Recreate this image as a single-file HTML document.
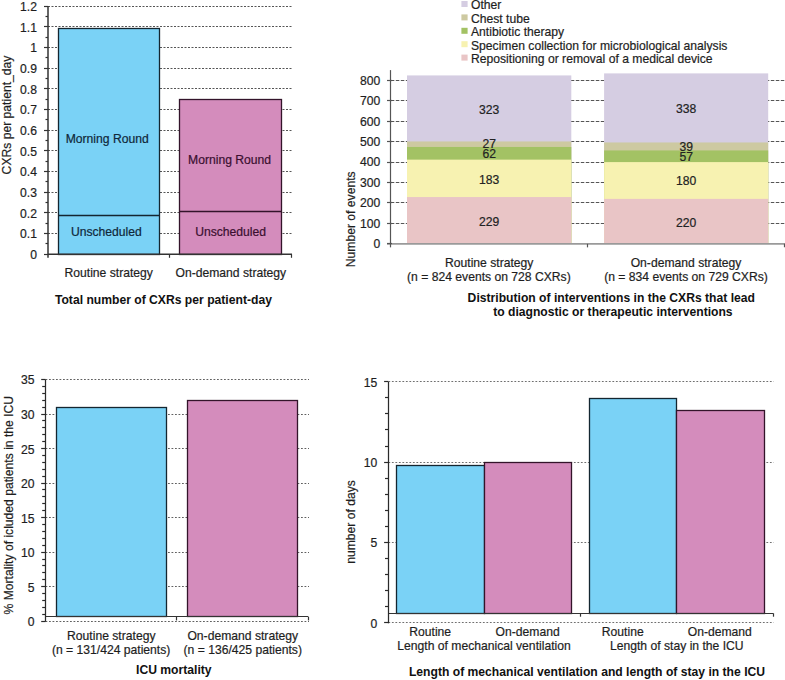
<!DOCTYPE html>
<html><head><meta charset="utf-8"><title>CXR strategies</title>
<style>
html,body{margin:0;padding:0;background:#fff;}
body{width:785px;height:680px;overflow:hidden;}
svg{display:block;font-family:"Liberation Sans", sans-serif;}
</style></head>
<body>
<svg width="785" height="680" viewBox="0 0 785 680">
<rect width="785" height="680" fill="#fff"/>
<line x1="48.00" y1="233.50" x2="292.00" y2="233.50" stroke="#555" stroke-width="1" stroke-dasharray="2 1.5"/>
<line x1="48.00" y1="212.50" x2="292.00" y2="212.50" stroke="#555" stroke-width="1" stroke-dasharray="2 1.5"/>
<line x1="48.00" y1="192.50" x2="292.00" y2="192.50" stroke="#555" stroke-width="1" stroke-dasharray="2 1.5"/>
<line x1="48.00" y1="171.50" x2="292.00" y2="171.50" stroke="#555" stroke-width="1" stroke-dasharray="2 1.5"/>
<line x1="48.00" y1="150.50" x2="292.00" y2="150.50" stroke="#555" stroke-width="1" stroke-dasharray="2 1.5"/>
<line x1="48.00" y1="130.50" x2="292.00" y2="130.50" stroke="#555" stroke-width="1" stroke-dasharray="2 1.5"/>
<line x1="48.00" y1="109.50" x2="292.00" y2="109.50" stroke="#555" stroke-width="1" stroke-dasharray="2 1.5"/>
<line x1="48.00" y1="88.50" x2="292.00" y2="88.50" stroke="#555" stroke-width="1" stroke-dasharray="2 1.5"/>
<line x1="48.00" y1="68.50" x2="292.00" y2="68.50" stroke="#555" stroke-width="1" stroke-dasharray="2 1.5"/>
<line x1="48.00" y1="47.50" x2="292.00" y2="47.50" stroke="#555" stroke-width="1" stroke-dasharray="2 1.5"/>
<line x1="48.00" y1="26.50" x2="292.00" y2="26.50" stroke="#555" stroke-width="1" stroke-dasharray="2 1.5"/>
<line x1="48.00" y1="6.50" x2="292.00" y2="6.50" stroke="#555" stroke-width="1" stroke-dasharray="2 1.5"/>
<rect x="58.50" y="28.50" width="101.00" height="226.00" fill="#7ad2f6" stroke="#142630" stroke-width="1.3"/>
<line x1="58.20" y1="215.50" x2="159.50" y2="215.50" stroke="#142630" stroke-width="1.3"/>
<rect x="179.50" y="99.50" width="102.00" height="155.00" fill="#d48cbc" stroke="#33142a" stroke-width="1.3"/>
<line x1="179.80" y1="211.50" x2="281.40" y2="211.50" stroke="#33142a" stroke-width="1.3"/>
<line x1="48.00" y1="6.14" x2="48.00" y2="257.80" stroke="#333" stroke-width="1.5"/>
<line x1="48.00" y1="254.30" x2="292.00" y2="254.30" stroke="#333" stroke-width="1.5"/>
<line x1="44.00" y1="254.50" x2="48.00" y2="254.50" stroke="#333" stroke-width="1.2"/>
<line x1="44.00" y1="233.50" x2="48.00" y2="233.50" stroke="#333" stroke-width="1.2"/>
<line x1="44.00" y1="212.50" x2="48.00" y2="212.50" stroke="#333" stroke-width="1.2"/>
<line x1="44.00" y1="192.50" x2="48.00" y2="192.50" stroke="#333" stroke-width="1.2"/>
<line x1="44.00" y1="171.50" x2="48.00" y2="171.50" stroke="#333" stroke-width="1.2"/>
<line x1="44.00" y1="150.50" x2="48.00" y2="150.50" stroke="#333" stroke-width="1.2"/>
<line x1="44.00" y1="130.50" x2="48.00" y2="130.50" stroke="#333" stroke-width="1.2"/>
<line x1="44.00" y1="109.50" x2="48.00" y2="109.50" stroke="#333" stroke-width="1.2"/>
<line x1="44.00" y1="88.50" x2="48.00" y2="88.50" stroke="#333" stroke-width="1.2"/>
<line x1="44.00" y1="68.50" x2="48.00" y2="68.50" stroke="#333" stroke-width="1.2"/>
<line x1="44.00" y1="47.50" x2="48.00" y2="47.50" stroke="#333" stroke-width="1.2"/>
<line x1="44.00" y1="26.50" x2="48.00" y2="26.50" stroke="#333" stroke-width="1.2"/>
<line x1="44.00" y1="6.50" x2="48.00" y2="6.50" stroke="#333" stroke-width="1.2"/>
<line x1="45.50" y1="243.50" x2="48.00" y2="243.50" stroke="#333" stroke-width="1.2"/>
<line x1="45.50" y1="223.50" x2="48.00" y2="223.50" stroke="#333" stroke-width="1.2"/>
<line x1="45.50" y1="202.50" x2="48.00" y2="202.50" stroke="#333" stroke-width="1.2"/>
<line x1="45.50" y1="181.50" x2="48.00" y2="181.50" stroke="#333" stroke-width="1.2"/>
<line x1="45.50" y1="161.50" x2="48.00" y2="161.50" stroke="#333" stroke-width="1.2"/>
<line x1="45.50" y1="140.50" x2="48.00" y2="140.50" stroke="#333" stroke-width="1.2"/>
<line x1="45.50" y1="119.50" x2="48.00" y2="119.50" stroke="#333" stroke-width="1.2"/>
<line x1="45.50" y1="99.50" x2="48.00" y2="99.50" stroke="#333" stroke-width="1.2"/>
<line x1="45.50" y1="78.50" x2="48.00" y2="78.50" stroke="#333" stroke-width="1.2"/>
<line x1="45.50" y1="57.50" x2="48.00" y2="57.50" stroke="#333" stroke-width="1.2"/>
<line x1="45.50" y1="37.50" x2="48.00" y2="37.50" stroke="#333" stroke-width="1.2"/>
<line x1="45.50" y1="16.50" x2="48.00" y2="16.50" stroke="#333" stroke-width="1.2"/>
<line x1="169.50" y1="254.30" x2="169.50" y2="257.80" stroke="#333" stroke-width="1.2"/>
<line x1="291.50" y1="254.30" x2="291.50" y2="257.80" stroke="#333" stroke-width="1.2"/>
<text x="37.00" y="259.05" text-anchor="end" font-size="12.15" fill="#1e1e1e" stroke="#1e1e1e" stroke-width="0.2">0</text>
<text x="37.00" y="238.37" text-anchor="end" font-size="12.15" fill="#1e1e1e" stroke="#1e1e1e" stroke-width="0.2">0.1</text>
<text x="37.00" y="217.69" text-anchor="end" font-size="12.15" fill="#1e1e1e" stroke="#1e1e1e" stroke-width="0.2">0.2</text>
<text x="37.00" y="197.01" text-anchor="end" font-size="12.15" fill="#1e1e1e" stroke="#1e1e1e" stroke-width="0.2">0.3</text>
<text x="37.00" y="176.33" text-anchor="end" font-size="12.15" fill="#1e1e1e" stroke="#1e1e1e" stroke-width="0.2">0.4</text>
<text x="37.00" y="155.65" text-anchor="end" font-size="12.15" fill="#1e1e1e" stroke="#1e1e1e" stroke-width="0.2">0.5</text>
<text x="37.00" y="134.97" text-anchor="end" font-size="12.15" fill="#1e1e1e" stroke="#1e1e1e" stroke-width="0.2">0.6</text>
<text x="37.00" y="114.29" text-anchor="end" font-size="12.15" fill="#1e1e1e" stroke="#1e1e1e" stroke-width="0.2">0.7</text>
<text x="37.00" y="93.61" text-anchor="end" font-size="12.15" fill="#1e1e1e" stroke="#1e1e1e" stroke-width="0.2">0.8</text>
<text x="37.00" y="72.93" text-anchor="end" font-size="12.15" fill="#1e1e1e" stroke="#1e1e1e" stroke-width="0.2">0.9</text>
<text x="37.00" y="52.25" text-anchor="end" font-size="12.15" fill="#1e1e1e" stroke="#1e1e1e" stroke-width="0.2">1</text>
<text x="37.00" y="31.57" text-anchor="end" font-size="12.15" fill="#1e1e1e" stroke="#1e1e1e" stroke-width="0.2">1.1</text>
<text x="37.00" y="10.89" text-anchor="end" font-size="12.15" fill="#1e1e1e" stroke="#1e1e1e" stroke-width="0.2">1.2</text>
<text x="107.20" y="143.00" text-anchor="middle" font-size="12.15" fill="#10283a" stroke="#10283a" stroke-width="0.2">Morning Round</text>
<text x="106.40" y="235.60" text-anchor="middle" font-size="12.15" fill="#10283a" stroke="#10283a" stroke-width="0.2">Unscheduled</text>
<text x="229.60" y="164.00" text-anchor="middle" font-size="12.15" fill="#3a0f30" stroke="#3a0f30" stroke-width="0.2">Morning Round</text>
<text x="230.60" y="235.60" text-anchor="middle" font-size="12.15" fill="#3a0f30" stroke="#3a0f30" stroke-width="0.2">Unscheduled</text>
<text x="108.70" y="276.80" text-anchor="middle" font-size="12.15" fill="#1e1e1e" stroke="#1e1e1e" stroke-width="0.2">Routine strategy</text>
<text x="230.80" y="276.80" text-anchor="middle" font-size="12.15" fill="#1e1e1e" stroke="#1e1e1e" stroke-width="0.2">On-demand strategy</text>
<text x="163.40" y="303.60" text-anchor="middle" font-size="12.15" fill="#111" font-weight="bold">Total number of CXRs per patient-day</text>
<text x="10.60" y="115.00" text-anchor="middle" font-size="12.15" fill="#1e1e1e" stroke="#1e1e1e" stroke-width="0.2" transform="rotate(-90 10.60 115.00)">CXRs per patient_day</text>
<line x1="390.80" y1="223.50" x2="785.00" y2="223.50" stroke="#555" stroke-width="1" stroke-dasharray="3.5 1.5"/>
<line x1="390.80" y1="202.50" x2="785.00" y2="202.50" stroke="#555" stroke-width="1" stroke-dasharray="3.5 1.5"/>
<line x1="390.80" y1="182.50" x2="785.00" y2="182.50" stroke="#555" stroke-width="1" stroke-dasharray="3.5 1.5"/>
<line x1="390.80" y1="162.50" x2="785.00" y2="162.50" stroke="#555" stroke-width="1" stroke-dasharray="3.5 1.5"/>
<line x1="390.80" y1="141.50" x2="785.00" y2="141.50" stroke="#555" stroke-width="1" stroke-dasharray="3.5 1.5"/>
<line x1="390.80" y1="121.50" x2="785.00" y2="121.50" stroke="#555" stroke-width="1" stroke-dasharray="3.5 1.5"/>
<line x1="390.80" y1="100.50" x2="785.00" y2="100.50" stroke="#555" stroke-width="1" stroke-dasharray="3.5 1.5"/>
<line x1="390.80" y1="80.50" x2="785.00" y2="80.50" stroke="#555" stroke-width="1" stroke-dasharray="3.5 1.5"/>
<rect x="407.00" y="75.42" width="164.30" height="168.43" fill="#d5cde2"/>
<rect x="407.00" y="141.45" width="164.30" height="102.40" fill="#cdc9a1"/>
<rect x="407.00" y="146.96" width="164.30" height="96.89" fill="#a3c264"/>
<rect x="407.00" y="159.64" width="164.30" height="84.21" fill="#f7f2b1"/>
<rect x="407.00" y="197.04" width="164.30" height="46.81" fill="#e9c5c6"/>
<text x="489.15" y="225.50" text-anchor="middle" font-size="12.15" fill="#222" stroke="#222" stroke-width="0.2">229</text>
<text x="489.15" y="183.60" text-anchor="middle" font-size="12.15" fill="#222" stroke="#222" stroke-width="0.2">183</text>
<text x="489.15" y="158.40" text-anchor="middle" font-size="12.15" fill="#222" stroke="#222" stroke-width="0.2">62</text>
<text x="489.15" y="148.20" text-anchor="middle" font-size="12.15" fill="#222" stroke="#222" stroke-width="0.2">27</text>
<text x="489.15" y="113.60" text-anchor="middle" font-size="12.15" fill="#222" stroke="#222" stroke-width="0.2">323</text>
<rect x="604.10" y="73.38" width="164.10" height="170.47" fill="#d5cde2"/>
<rect x="604.10" y="142.47" width="164.10" height="101.38" fill="#cdc9a1"/>
<rect x="604.10" y="150.44" width="164.10" height="93.41" fill="#a3c264"/>
<rect x="604.10" y="162.09" width="164.10" height="81.76" fill="#f7f2b1"/>
<rect x="604.10" y="198.88" width="164.10" height="44.97" fill="#e9c5c6"/>
<text x="686.15" y="226.60" text-anchor="middle" font-size="12.15" fill="#222" stroke="#222" stroke-width="0.2">220</text>
<text x="686.15" y="185.40" text-anchor="middle" font-size="12.15" fill="#222" stroke="#222" stroke-width="0.2">180</text>
<text x="686.15" y="161.00" text-anchor="middle" font-size="12.15" fill="#222" stroke="#222" stroke-width="0.2">57</text>
<text x="686.15" y="151.00" text-anchor="middle" font-size="12.15" fill="#222" stroke="#222" stroke-width="0.2">39</text>
<text x="686.15" y="112.80" text-anchor="middle" font-size="12.15" fill="#222" stroke="#222" stroke-width="0.2">338</text>
<line x1="390.50" y1="70.10" x2="390.50" y2="243.85" stroke="#555" stroke-width="1.2"/>
<line x1="387.00" y1="243.85" x2="785.00" y2="243.85" stroke="#9a9a9a" stroke-width="1.6"/>
<line x1="387.00" y1="243.50" x2="392.00" y2="243.50" stroke="#555" stroke-width="1.2"/>
<line x1="387.00" y1="223.50" x2="392.00" y2="223.50" stroke="#555" stroke-width="1.2"/>
<line x1="387.00" y1="202.50" x2="392.00" y2="202.50" stroke="#555" stroke-width="1.2"/>
<line x1="387.00" y1="182.50" x2="392.00" y2="182.50" stroke="#555" stroke-width="1.2"/>
<line x1="387.00" y1="162.50" x2="392.00" y2="162.50" stroke="#555" stroke-width="1.2"/>
<line x1="387.00" y1="141.50" x2="392.00" y2="141.50" stroke="#555" stroke-width="1.2"/>
<line x1="387.00" y1="121.50" x2="392.00" y2="121.50" stroke="#555" stroke-width="1.2"/>
<line x1="387.00" y1="100.50" x2="392.00" y2="100.50" stroke="#555" stroke-width="1.2"/>
<line x1="387.00" y1="80.50" x2="392.00" y2="80.50" stroke="#555" stroke-width="1.2"/>
<line x1="390.50" y1="243.85" x2="390.50" y2="247.35" stroke="#555" stroke-width="1.2"/>
<line x1="587.50" y1="243.85" x2="587.50" y2="247.35" stroke="#555" stroke-width="1.2"/>
<line x1="784.50" y1="243.85" x2="784.50" y2="247.35" stroke="#555" stroke-width="1.2"/>
<text x="380.30" y="248.25" text-anchor="end" font-size="12.15" fill="#1e1e1e" stroke="#1e1e1e" stroke-width="0.2">0</text>
<text x="380.30" y="227.81" text-anchor="end" font-size="12.15" fill="#1e1e1e" stroke="#1e1e1e" stroke-width="0.2">100</text>
<text x="380.30" y="207.37" text-anchor="end" font-size="12.15" fill="#1e1e1e" stroke="#1e1e1e" stroke-width="0.2">200</text>
<text x="380.30" y="186.93" text-anchor="end" font-size="12.15" fill="#1e1e1e" stroke="#1e1e1e" stroke-width="0.2">300</text>
<text x="380.30" y="166.49" text-anchor="end" font-size="12.15" fill="#1e1e1e" stroke="#1e1e1e" stroke-width="0.2">400</text>
<text x="380.30" y="146.05" text-anchor="end" font-size="12.15" fill="#1e1e1e" stroke="#1e1e1e" stroke-width="0.2">500</text>
<text x="380.30" y="125.61" text-anchor="end" font-size="12.15" fill="#1e1e1e" stroke="#1e1e1e" stroke-width="0.2">600</text>
<text x="380.30" y="105.17" text-anchor="end" font-size="12.15" fill="#1e1e1e" stroke="#1e1e1e" stroke-width="0.2">700</text>
<text x="380.30" y="84.73" text-anchor="end" font-size="12.15" fill="#1e1e1e" stroke="#1e1e1e" stroke-width="0.2">800</text>
<text x="354.80" y="219.30" text-anchor="middle" font-size="12.15" fill="#1e1e1e" stroke="#1e1e1e" stroke-width="0.2" transform="rotate(-90 354.80 219.30)">Number of events</text>
<text x="489.20" y="266.60" text-anchor="middle" font-size="12.15" fill="#1e1e1e" stroke="#1e1e1e" stroke-width="0.2">Routine strategy</text>
<text x="488.90" y="281.10" text-anchor="middle" font-size="12.15" fill="#1e1e1e" stroke="#1e1e1e" stroke-width="0.2">(n = 824 events on 728 CXRs)</text>
<text x="686.00" y="266.60" text-anchor="middle" font-size="12.15" fill="#1e1e1e" stroke="#1e1e1e" stroke-width="0.2">On-demand strategy</text>
<text x="686.00" y="281.10" text-anchor="middle" font-size="12.15" fill="#1e1e1e" stroke="#1e1e1e" stroke-width="0.2">(n = 834 events on 729 CXRs)</text>
<text x="611.30" y="301.50" text-anchor="middle" font-size="12.15" fill="#111" font-weight="bold">Distribution of interventions in the CXRs that lead</text>
<text x="612.90" y="316.20" text-anchor="middle" font-size="12.15" fill="#111" font-weight="bold">to diagnostic or therapeutic interventions</text>
<rect x="461.40" y="1.00" width="6.20" height="6.00" fill="#d5cde2"/>
<text x="471.00" y="9.30" text-anchor="start" font-size="12.15" fill="#1e1e1e" stroke="#1e1e1e" stroke-width="0.2">Other</text>
<rect x="461.40" y="14.40" width="6.20" height="6.00" fill="#cdc9a1"/>
<text x="471.00" y="22.70" text-anchor="start" font-size="12.15" fill="#1e1e1e" stroke="#1e1e1e" stroke-width="0.2">Chest tube</text>
<rect x="461.40" y="27.80" width="6.20" height="6.00" fill="#a3c264"/>
<text x="471.00" y="36.10" text-anchor="start" font-size="12.15" fill="#1e1e1e" stroke="#1e1e1e" stroke-width="0.2">Antibiotic therapy</text>
<rect x="461.40" y="41.20" width="6.20" height="6.00" fill="#f7f2b1"/>
<text x="471.00" y="49.50" text-anchor="start" font-size="12.15" fill="#1e1e1e" stroke="#1e1e1e" stroke-width="0.2">Specimen collection for microbiological analysis</text>
<rect x="461.40" y="54.60" width="6.20" height="6.00" fill="#e9c5c6"/>
<text x="471.00" y="62.90" text-anchor="start" font-size="12.15" fill="#1e1e1e" stroke="#1e1e1e" stroke-width="0.2">Repositioning or removal of a medical device</text>
<line x1="45.50" y1="621.50" x2="309.00" y2="621.50" stroke="#606060" stroke-width="1" stroke-dasharray="1.8 1.7"/>
<line x1="45.50" y1="586.50" x2="309.00" y2="586.50" stroke="#606060" stroke-width="1" stroke-dasharray="1.8 1.7"/>
<line x1="45.50" y1="552.50" x2="309.00" y2="552.50" stroke="#606060" stroke-width="1" stroke-dasharray="1.8 1.7"/>
<line x1="45.50" y1="517.50" x2="309.00" y2="517.50" stroke="#606060" stroke-width="1" stroke-dasharray="1.8 1.7"/>
<line x1="45.50" y1="483.50" x2="309.00" y2="483.50" stroke="#606060" stroke-width="1" stroke-dasharray="1.8 1.7"/>
<line x1="45.50" y1="448.50" x2="309.00" y2="448.50" stroke="#606060" stroke-width="1" stroke-dasharray="1.8 1.7"/>
<line x1="45.50" y1="414.50" x2="309.00" y2="414.50" stroke="#606060" stroke-width="1" stroke-dasharray="1.8 1.7"/>
<line x1="45.50" y1="379.50" x2="309.00" y2="379.50" stroke="#606060" stroke-width="1" stroke-dasharray="1.8 1.7"/>
<rect x="56.50" y="407.50" width="110.00" height="209.00" fill="#7ad2f6" stroke="#142630" stroke-width="1.3"/>
<rect x="187.50" y="400.50" width="110.00" height="216.00" fill="#d48cbc" stroke="#33142a" stroke-width="1.3"/>
<line x1="45.50" y1="616.50" x2="308.40" y2="616.50" stroke="#333" stroke-width="1.2"/>
<line x1="176.50" y1="616.90" x2="176.50" y2="620.40" stroke="#333" stroke-width="1.2"/>
<line x1="308.50" y1="616.90" x2="308.50" y2="620.40" stroke="#333" stroke-width="1.2"/>
<line x1="45.50" y1="379.49" x2="45.50" y2="621.70" stroke="#2a2a2a" stroke-width="1.25"/>
<line x1="41.20" y1="621.50" x2="45.50" y2="621.50" stroke="#2a2a2a" stroke-width="1.2"/>
<line x1="41.20" y1="586.50" x2="45.50" y2="586.50" stroke="#2a2a2a" stroke-width="1.2"/>
<line x1="41.20" y1="552.50" x2="45.50" y2="552.50" stroke="#2a2a2a" stroke-width="1.2"/>
<line x1="41.20" y1="517.50" x2="45.50" y2="517.50" stroke="#2a2a2a" stroke-width="1.2"/>
<line x1="41.20" y1="483.50" x2="45.50" y2="483.50" stroke="#2a2a2a" stroke-width="1.2"/>
<line x1="41.20" y1="448.50" x2="45.50" y2="448.50" stroke="#2a2a2a" stroke-width="1.2"/>
<line x1="41.20" y1="414.50" x2="45.50" y2="414.50" stroke="#2a2a2a" stroke-width="1.2"/>
<line x1="41.20" y1="379.50" x2="45.50" y2="379.50" stroke="#2a2a2a" stroke-width="1.2"/>
<line x1="42.20" y1="614.50" x2="45.50" y2="614.50" stroke="#2a2a2a" stroke-width="1.2"/>
<line x1="42.20" y1="607.50" x2="45.50" y2="607.50" stroke="#2a2a2a" stroke-width="1.2"/>
<line x1="42.20" y1="600.50" x2="45.50" y2="600.50" stroke="#2a2a2a" stroke-width="1.2"/>
<line x1="42.20" y1="593.50" x2="45.50" y2="593.50" stroke="#2a2a2a" stroke-width="1.2"/>
<line x1="42.20" y1="579.50" x2="45.50" y2="579.50" stroke="#2a2a2a" stroke-width="1.2"/>
<line x1="42.20" y1="572.50" x2="45.50" y2="572.50" stroke="#2a2a2a" stroke-width="1.2"/>
<line x1="42.20" y1="565.50" x2="45.50" y2="565.50" stroke="#2a2a2a" stroke-width="1.2"/>
<line x1="42.20" y1="559.50" x2="45.50" y2="559.50" stroke="#2a2a2a" stroke-width="1.2"/>
<line x1="42.20" y1="545.50" x2="45.50" y2="545.50" stroke="#2a2a2a" stroke-width="1.2"/>
<line x1="42.20" y1="538.50" x2="45.50" y2="538.50" stroke="#2a2a2a" stroke-width="1.2"/>
<line x1="42.20" y1="531.50" x2="45.50" y2="531.50" stroke="#2a2a2a" stroke-width="1.2"/>
<line x1="42.20" y1="524.50" x2="45.50" y2="524.50" stroke="#2a2a2a" stroke-width="1.2"/>
<line x1="42.20" y1="510.50" x2="45.50" y2="510.50" stroke="#2a2a2a" stroke-width="1.2"/>
<line x1="42.20" y1="503.50" x2="45.50" y2="503.50" stroke="#2a2a2a" stroke-width="1.2"/>
<line x1="42.20" y1="496.50" x2="45.50" y2="496.50" stroke="#2a2a2a" stroke-width="1.2"/>
<line x1="42.20" y1="489.50" x2="45.50" y2="489.50" stroke="#2a2a2a" stroke-width="1.2"/>
<line x1="42.20" y1="476.50" x2="45.50" y2="476.50" stroke="#2a2a2a" stroke-width="1.2"/>
<line x1="42.20" y1="469.50" x2="45.50" y2="469.50" stroke="#2a2a2a" stroke-width="1.2"/>
<line x1="42.20" y1="462.50" x2="45.50" y2="462.50" stroke="#2a2a2a" stroke-width="1.2"/>
<line x1="42.20" y1="455.50" x2="45.50" y2="455.50" stroke="#2a2a2a" stroke-width="1.2"/>
<line x1="42.20" y1="441.50" x2="45.50" y2="441.50" stroke="#2a2a2a" stroke-width="1.2"/>
<line x1="42.20" y1="434.50" x2="45.50" y2="434.50" stroke="#2a2a2a" stroke-width="1.2"/>
<line x1="42.20" y1="427.50" x2="45.50" y2="427.50" stroke="#2a2a2a" stroke-width="1.2"/>
<line x1="42.20" y1="420.50" x2="45.50" y2="420.50" stroke="#2a2a2a" stroke-width="1.2"/>
<line x1="42.20" y1="407.50" x2="45.50" y2="407.50" stroke="#2a2a2a" stroke-width="1.2"/>
<line x1="42.20" y1="400.50" x2="45.50" y2="400.50" stroke="#2a2a2a" stroke-width="1.2"/>
<line x1="42.20" y1="393.50" x2="45.50" y2="393.50" stroke="#2a2a2a" stroke-width="1.2"/>
<line x1="42.20" y1="386.50" x2="45.50" y2="386.50" stroke="#2a2a2a" stroke-width="1.2"/>
<text x="34.40" y="626.20" text-anchor="end" font-size="12.15" fill="#1e1e1e" stroke="#1e1e1e" stroke-width="0.2">0</text>
<text x="34.40" y="591.67" text-anchor="end" font-size="12.15" fill="#1e1e1e" stroke="#1e1e1e" stroke-width="0.2">5</text>
<text x="34.40" y="557.14" text-anchor="end" font-size="12.15" fill="#1e1e1e" stroke="#1e1e1e" stroke-width="0.2">10</text>
<text x="34.40" y="522.61" text-anchor="end" font-size="12.15" fill="#1e1e1e" stroke="#1e1e1e" stroke-width="0.2">15</text>
<text x="34.40" y="488.08" text-anchor="end" font-size="12.15" fill="#1e1e1e" stroke="#1e1e1e" stroke-width="0.2">20</text>
<text x="34.40" y="453.55" text-anchor="end" font-size="12.15" fill="#1e1e1e" stroke="#1e1e1e" stroke-width="0.2">25</text>
<text x="34.40" y="419.02" text-anchor="end" font-size="12.15" fill="#1e1e1e" stroke="#1e1e1e" stroke-width="0.2">30</text>
<text x="34.40" y="384.49" text-anchor="end" font-size="12.15" fill="#1e1e1e" stroke="#1e1e1e" stroke-width="0.2">35</text>
<text x="12.70" y="505.20" text-anchor="middle" font-size="12.15" fill="#1e1e1e" stroke="#1e1e1e" stroke-width="0.2" transform="rotate(-90 12.70 505.20)">% Mortality of icluded patients in the ICU</text>
<text x="111.25" y="639.60" text-anchor="middle" font-size="12.15" fill="#1e1e1e" stroke="#1e1e1e" stroke-width="0.2">Routine strategy</text>
<text x="111.15" y="654.40" text-anchor="middle" font-size="12.15" fill="#1e1e1e" stroke="#1e1e1e" stroke-width="0.2">(n = 131/424 patients)</text>
<text x="242.75" y="639.60" text-anchor="middle" font-size="12.15" fill="#1e1e1e" stroke="#1e1e1e" stroke-width="0.2">On-demand strategy</text>
<text x="242.75" y="654.40" text-anchor="middle" font-size="12.15" fill="#1e1e1e" stroke="#1e1e1e" stroke-width="0.2">(n = 136/425 patients)</text>
<text x="173.80" y="674.10" text-anchor="middle" font-size="12.15" fill="#111" font-weight="bold">ICU mortality</text>
<line x1="388.40" y1="622.50" x2="773.70" y2="622.50" stroke="#707070" stroke-width="1" stroke-dasharray="1.8 1.7"/>
<line x1="388.40" y1="542.50" x2="773.70" y2="542.50" stroke="#707070" stroke-width="1" stroke-dasharray="1.8 1.7"/>
<line x1="388.40" y1="462.50" x2="773.70" y2="462.50" stroke="#707070" stroke-width="1" stroke-dasharray="1.8 1.7"/>
<line x1="388.40" y1="381.50" x2="773.70" y2="381.50" stroke="#707070" stroke-width="1" stroke-dasharray="1.8 1.7"/>
<rect x="396.50" y="465.50" width="88.00" height="148.00" fill="#7ad2f6" stroke="#142630" stroke-width="1.3"/>
<rect x="484.50" y="462.50" width="87.00" height="151.00" fill="#d48cbc" stroke="#33142a" stroke-width="1.3"/>
<rect x="589.50" y="398.50" width="87.00" height="215.00" fill="#7ad2f6" stroke="#142630" stroke-width="1.3"/>
<rect x="676.50" y="410.50" width="88.00" height="203.00" fill="#d48cbc" stroke="#33142a" stroke-width="1.3"/>
<line x1="388.40" y1="613.50" x2="773.00" y2="613.50" stroke="#333" stroke-width="1.2"/>
<line x1="580.50" y1="613.20" x2="580.50" y2="616.70" stroke="#333" stroke-width="1.2"/>
<line x1="773.50" y1="613.20" x2="773.50" y2="616.70" stroke="#333" stroke-width="1.2"/>
<line x1="388.50" y1="381.75" x2="388.50" y2="623.30" stroke="#2a2a2a" stroke-width="1.25"/>
<line x1="384.10" y1="622.50" x2="388.40" y2="622.50" stroke="#2a2a2a" stroke-width="1.2"/>
<line x1="384.10" y1="542.50" x2="388.40" y2="542.50" stroke="#2a2a2a" stroke-width="1.2"/>
<line x1="384.10" y1="462.50" x2="388.40" y2="462.50" stroke="#2a2a2a" stroke-width="1.2"/>
<line x1="384.10" y1="381.50" x2="388.40" y2="381.50" stroke="#2a2a2a" stroke-width="1.2"/>
<line x1="385.00" y1="606.50" x2="388.40" y2="606.50" stroke="#2a2a2a" stroke-width="1.2"/>
<line x1="385.00" y1="590.50" x2="388.40" y2="590.50" stroke="#2a2a2a" stroke-width="1.2"/>
<line x1="385.00" y1="574.50" x2="388.40" y2="574.50" stroke="#2a2a2a" stroke-width="1.2"/>
<line x1="385.00" y1="558.50" x2="388.40" y2="558.50" stroke="#2a2a2a" stroke-width="1.2"/>
<line x1="385.00" y1="526.50" x2="388.40" y2="526.50" stroke="#2a2a2a" stroke-width="1.2"/>
<line x1="385.00" y1="510.50" x2="388.40" y2="510.50" stroke="#2a2a2a" stroke-width="1.2"/>
<line x1="385.00" y1="494.50" x2="388.40" y2="494.50" stroke="#2a2a2a" stroke-width="1.2"/>
<line x1="385.00" y1="478.50" x2="388.40" y2="478.50" stroke="#2a2a2a" stroke-width="1.2"/>
<line x1="385.00" y1="446.50" x2="388.40" y2="446.50" stroke="#2a2a2a" stroke-width="1.2"/>
<line x1="385.00" y1="429.50" x2="388.40" y2="429.50" stroke="#2a2a2a" stroke-width="1.2"/>
<line x1="385.00" y1="413.50" x2="388.40" y2="413.50" stroke="#2a2a2a" stroke-width="1.2"/>
<line x1="385.00" y1="397.50" x2="388.40" y2="397.50" stroke="#2a2a2a" stroke-width="1.2"/>
<text x="377.30" y="627.80" text-anchor="end" font-size="12.15" fill="#1e1e1e" stroke="#1e1e1e" stroke-width="0.2">0</text>
<text x="377.30" y="547.45" text-anchor="end" font-size="12.15" fill="#1e1e1e" stroke="#1e1e1e" stroke-width="0.2">5</text>
<text x="377.30" y="467.10" text-anchor="end" font-size="12.15" fill="#1e1e1e" stroke="#1e1e1e" stroke-width="0.2">10</text>
<text x="377.30" y="386.75" text-anchor="end" font-size="12.15" fill="#1e1e1e" stroke="#1e1e1e" stroke-width="0.2">15</text>
<text x="355.00" y="522.00" text-anchor="middle" font-size="12.15" fill="#1e1e1e" stroke="#1e1e1e" stroke-width="0.2" transform="rotate(-90 355.00 522.00)">number of days</text>
<text x="430.20" y="636.00" text-anchor="middle" font-size="12.15" fill="#1e1e1e" stroke="#1e1e1e" stroke-width="0.2">Routine</text>
<text x="527.60" y="636.00" text-anchor="middle" font-size="12.15" fill="#1e1e1e" stroke="#1e1e1e" stroke-width="0.2">On-demand</text>
<text x="484.00" y="650.20" text-anchor="middle" font-size="12.15" fill="#1e1e1e" stroke="#1e1e1e" stroke-width="0.2">Length of mechanical ventilation</text>
<text x="622.75" y="636.00" text-anchor="middle" font-size="12.15" fill="#1e1e1e" stroke="#1e1e1e" stroke-width="0.2">Routine</text>
<text x="719.80" y="636.00" text-anchor="middle" font-size="12.15" fill="#1e1e1e" stroke="#1e1e1e" stroke-width="0.2">On-demand</text>
<text x="676.80" y="650.20" text-anchor="middle" font-size="12.15" fill="#1e1e1e" stroke="#1e1e1e" stroke-width="0.2">Length of stay in the ICU</text>
<text x="587.00" y="675.60" text-anchor="middle" font-size="12.15" fill="#111" font-weight="bold">Length of mechanical ventilation and length of stay in the ICU</text>
</svg>
</body></html>
